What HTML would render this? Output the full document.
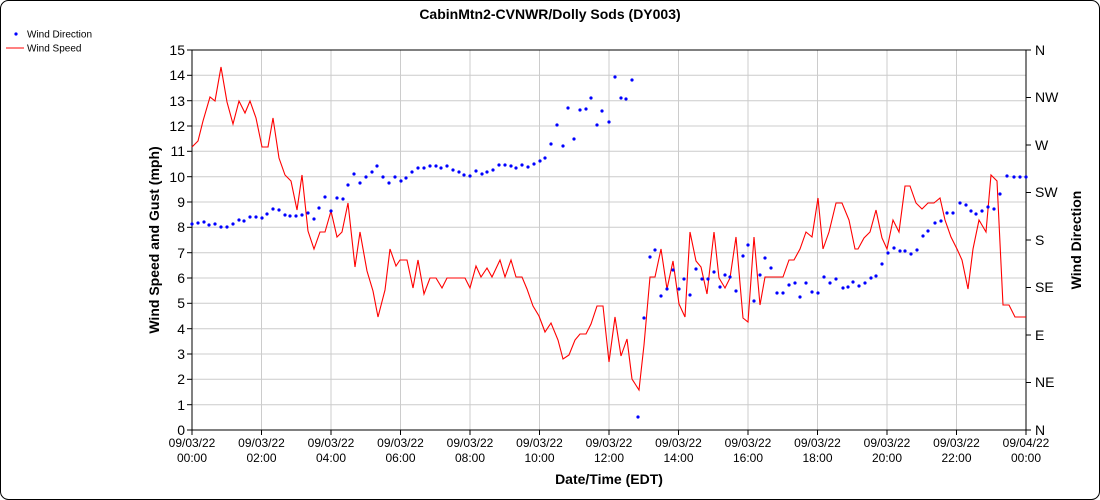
<!DOCTYPE html>
<html><head><meta charset="utf-8"><style>
body{margin:0;background:#fff;}
svg{display:block;font-family:"Liberation Sans",Arial,sans-serif;}
</style></head><body>
<svg width="1100" height="500" viewBox="0 0 1100 500">
<rect x="0.5" y="0.5" width="1099" height="499" rx="8" fill="#fff" stroke="#000"/>
<text x="550" y="19" text-anchor="middle" font-size="14" font-weight="bold">CabinMtn2-CVNWR/Dolly Sods (DY003)</text>
<circle cx="16" cy="34" r="1.6" fill="#00f"/>
<text x="27" y="37.5" font-size="10">Wind Direction</text>
<line x1="6" y1="48" x2="24" y2="48" stroke="#f00"/>
<text x="27" y="51.5" font-size="10">Wind Speed</text>
<g stroke="#ccc" stroke-width="1">
<line x1="192" y1="75.3" x2="1026" y2="75.3"/><line x1="192" y1="100.7" x2="1026" y2="100.7"/><line x1="192" y1="126" x2="1026" y2="126"/><line x1="192" y1="151.3" x2="1026" y2="151.3"/><line x1="192" y1="176.7" x2="1026" y2="176.7"/><line x1="192" y1="202" x2="1026" y2="202"/><line x1="192" y1="227.3" x2="1026" y2="227.3"/><line x1="192" y1="252.7" x2="1026" y2="252.7"/><line x1="192" y1="278" x2="1026" y2="278"/><line x1="192" y1="303.3" x2="1026" y2="303.3"/><line x1="192" y1="328.7" x2="1026" y2="328.7"/><line x1="192" y1="354" x2="1026" y2="354"/><line x1="192" y1="379.3" x2="1026" y2="379.3"/><line x1="192" y1="404.7" x2="1026" y2="404.7"/>
<line x1="261.5" y1="50" x2="261.5" y2="430"/><line x1="331" y1="50" x2="331" y2="430"/><line x1="400.5" y1="50" x2="400.5" y2="430"/><line x1="470" y1="50" x2="470" y2="430"/><line x1="539.5" y1="50" x2="539.5" y2="430"/><line x1="609" y1="50" x2="609" y2="430"/><line x1="678.5" y1="50" x2="678.5" y2="430"/><line x1="748" y1="50" x2="748" y2="430"/><line x1="817.5" y1="50" x2="817.5" y2="430"/><line x1="887" y1="50" x2="887" y2="430"/><line x1="956.5" y1="50" x2="956.5" y2="430"/>
</g>
<rect x="192" y="50" width="834" height="380" fill="none" stroke="#000"/>
<g stroke="#000">
<line x1="187" y1="50" x2="192" y2="50"/><line x1="187" y1="75.3" x2="192" y2="75.3"/><line x1="187" y1="100.7" x2="192" y2="100.7"/><line x1="187" y1="126" x2="192" y2="126"/><line x1="187" y1="151.3" x2="192" y2="151.3"/><line x1="187" y1="176.7" x2="192" y2="176.7"/><line x1="187" y1="202" x2="192" y2="202"/><line x1="187" y1="227.3" x2="192" y2="227.3"/><line x1="187" y1="252.7" x2="192" y2="252.7"/><line x1="187" y1="278" x2="192" y2="278"/><line x1="187" y1="303.3" x2="192" y2="303.3"/><line x1="187" y1="328.7" x2="192" y2="328.7"/><line x1="187" y1="354" x2="192" y2="354"/><line x1="187" y1="379.3" x2="192" y2="379.3"/><line x1="187" y1="404.7" x2="192" y2="404.7"/><line x1="187" y1="430" x2="192" y2="430"/>
<line x1="1026" y1="50" x2="1031" y2="50"/><line x1="1026" y1="97.5" x2="1031" y2="97.5"/><line x1="1026" y1="145" x2="1031" y2="145"/><line x1="1026" y1="192.5" x2="1031" y2="192.5"/><line x1="1026" y1="240" x2="1031" y2="240"/><line x1="1026" y1="287.5" x2="1031" y2="287.5"/><line x1="1026" y1="335" x2="1031" y2="335"/><line x1="1026" y1="382.5" x2="1031" y2="382.5"/><line x1="1026" y1="430" x2="1031" y2="430"/>
<line x1="192" y1="430" x2="192" y2="435"/><line x1="261.5" y1="430" x2="261.5" y2="435"/><line x1="331" y1="430" x2="331" y2="435"/><line x1="400.5" y1="430" x2="400.5" y2="435"/><line x1="470" y1="430" x2="470" y2="435"/><line x1="539.5" y1="430" x2="539.5" y2="435"/><line x1="609" y1="430" x2="609" y2="435"/><line x1="678.5" y1="430" x2="678.5" y2="435"/><line x1="748" y1="430" x2="748" y2="435"/><line x1="817.5" y1="430" x2="817.5" y2="435"/><line x1="887" y1="430" x2="887" y2="435"/><line x1="956.5" y1="430" x2="956.5" y2="435"/><line x1="1026" y1="430" x2="1026" y2="435"/>
</g>
<g font-size="14" text-anchor="end">
<text x="185" y="55">15</text><text x="185" y="80">14</text><text x="185" y="106">13</text><text x="185" y="131">12</text><text x="185" y="156">11</text><text x="185" y="182">10</text><text x="185" y="207">9</text><text x="185" y="232">8</text><text x="185" y="258">7</text><text x="185" y="283">6</text><text x="185" y="308">5</text><text x="185" y="334">4</text><text x="185" y="359">3</text><text x="185" y="384">2</text><text x="185" y="410">1</text><text x="185" y="435">0</text>
</g>
<g font-size="14">
<text x="1035" y="55">N</text><text x="1035" y="102">NW</text><text x="1035" y="150">W</text><text x="1035" y="197">SW</text><text x="1035" y="245">S</text><text x="1035" y="292">SE</text><text x="1035" y="340">E</text><text x="1035" y="387">NE</text><text x="1035" y="435">N</text>
</g>
<g font-size="12" text-anchor="middle">
<text x="192" y="447">09/03/22</text><text x="192" y="462">00:00</text>
<text x="261.5" y="447">09/03/22</text><text x="261.5" y="462">02:00</text>
<text x="331" y="447">09/03/22</text><text x="331" y="462">04:00</text>
<text x="400.5" y="447">09/03/22</text><text x="400.5" y="462">06:00</text>
<text x="470" y="447">09/03/22</text><text x="470" y="462">08:00</text>
<text x="539.5" y="447">09/03/22</text><text x="539.5" y="462">10:00</text>
<text x="609" y="447">09/03/22</text><text x="609" y="462">12:00</text>
<text x="678.5" y="447">09/03/22</text><text x="678.5" y="462">14:00</text>
<text x="748" y="447">09/03/22</text><text x="748" y="462">16:00</text>
<text x="817.5" y="447">09/03/22</text><text x="817.5" y="462">18:00</text>
<text x="887" y="447">09/03/22</text><text x="887" y="462">20:00</text>
<text x="956.5" y="447">09/03/22</text><text x="956.5" y="462">22:00</text>
<text x="1026" y="447">09/04/22</text><text x="1026" y="462">00:00</text>
</g>
<text x="609" y="484" text-anchor="middle" font-size="14" font-weight="bold">Date/Time (EDT)</text>
<text transform="translate(159,240) rotate(-90)" text-anchor="middle" font-size="14" font-weight="bold">Wind Speed and Gust (mph)</text>
<text transform="translate(1081,240) rotate(-90)" text-anchor="middle" font-size="14" font-weight="bold">Wind Direction</text>
<polyline fill="none" stroke="#f00" stroke-width="1.1" points="192,147 198,141 203,121 210,97 215,101 221,67 227,102 233,124 239,101 245,113 250,101 256,118 262,147 268,147 273,118 279,158 285,175 291,181 297,210 302,175 308,231 314,249 320,232 325,232 331,211 337,237 342,232 348,203 355,267 360,232 367,271 373,291 378,317 385,290 390,249 396,266 400,260 407,260 413,288 418,260 424,294 430,278 436,278 442,288 447,278 453,278 460,278 465,278 470,288 476,266 481,277 487,268 492,277 500,260 505,277 511,260 516,277 522,277 527,289 533,306 539,316 545,332 551,323 558,340 563,359 569,355 575,340 580,334 586,334 591,324 597,306 603,306 609,362 615,317 621,356 627,339 632,379 639,390 644,345 650,277 655,277 661,249 667,289 673,261 679,304 685,317 690,232 696,261 701,267 707,294 714,232 719,278 725,288 730,278 736,237 743,318 748,322 754,237 760,305 765,277 771,277 783,277 789,260 794,260 800,249 806,232 812,237 818,198 823,249 829,232 836,203 842,203 849,220 855,249 858,249 864,238 870,232 876,210 882,238 887,249 893,220 899,232 905,186 910,186 916,203 922,209 928,203 934,203 940,198 945,220 951,237 957,249 962,260 968,289 973,249 979,220 986,232 991,175 997,181 1003,305 1009,305 1015,317 1026,317"/>
<g fill="#00f">
<circle cx="192" cy="224" r="1.6"/><circle cx="198" cy="223" r="1.6"/><circle cx="204" cy="222" r="1.6"/><circle cx="209" cy="225" r="1.6"/><circle cx="215" cy="224" r="1.6"/><circle cx="221" cy="227" r="1.6"/><circle cx="227" cy="227" r="1.6"/><circle cx="233" cy="224" r="1.6"/><circle cx="239" cy="220" r="1.6"/><circle cx="244" cy="221" r="1.6"/><circle cx="250" cy="217" r="1.6"/><circle cx="256" cy="217" r="1.6"/><circle cx="262" cy="218" r="1.6"/><circle cx="267" cy="214" r="1.6"/><circle cx="273" cy="209" r="1.6"/><circle cx="279" cy="210" r="1.6"/><circle cx="285" cy="215" r="1.6"/><circle cx="290" cy="216" r="1.6"/><circle cx="296" cy="216" r="1.6"/><circle cx="302" cy="215" r="1.6"/><circle cx="308" cy="213" r="1.6"/><circle cx="314" cy="219" r="1.6"/><circle cx="319" cy="208" r="1.6"/><circle cx="325" cy="197" r="1.6"/><circle cx="331" cy="211" r="1.6"/><circle cx="337" cy="198" r="1.6"/><circle cx="343" cy="199" r="1.6"/><circle cx="348" cy="185" r="1.6"/><circle cx="354" cy="174" r="1.6"/><circle cx="360" cy="183" r="1.6"/><circle cx="366" cy="177" r="1.6"/><circle cx="372" cy="172" r="1.6"/><circle cx="377" cy="166" r="1.6"/><circle cx="383" cy="177" r="1.6"/><circle cx="389" cy="183" r="1.6"/><circle cx="395" cy="177" r="1.6"/><circle cx="401" cy="181" r="1.6"/><circle cx="406" cy="178" r="1.6"/><circle cx="412" cy="172" r="1.6"/><circle cx="418" cy="168" r="1.6"/><circle cx="424" cy="168" r="1.6"/><circle cx="430" cy="166" r="1.6"/><circle cx="436" cy="166" r="1.6"/><circle cx="441" cy="168" r="1.6"/><circle cx="447" cy="166" r="1.6"/><circle cx="453" cy="170" r="1.6"/><circle cx="459" cy="172" r="1.6"/><circle cx="464" cy="175" r="1.6"/><circle cx="470" cy="176" r="1.6"/><circle cx="476" cy="171" r="1.6"/><circle cx="482" cy="174" r="1.6"/><circle cx="487" cy="172" r="1.6"/><circle cx="493" cy="170" r="1.6"/><circle cx="499" cy="165" r="1.6"/><circle cx="505" cy="165" r="1.6"/><circle cx="511" cy="166" r="1.6"/><circle cx="516" cy="168" r="1.6"/><circle cx="522" cy="165" r="1.6"/><circle cx="528" cy="167" r="1.6"/><circle cx="534" cy="164" r="1.6"/><circle cx="540" cy="161" r="1.6"/><circle cx="545" cy="158" r="1.6"/><circle cx="551" cy="144" r="1.6"/><circle cx="557" cy="125" r="1.6"/><circle cx="563" cy="146" r="1.6"/><circle cx="568" cy="108" r="1.6"/><circle cx="574" cy="139" r="1.6"/><circle cx="580" cy="110" r="1.6"/><circle cx="586" cy="109" r="1.6"/><circle cx="591" cy="98" r="1.6"/><circle cx="597" cy="125" r="1.6"/><circle cx="602" cy="111" r="1.6"/><circle cx="609" cy="122" r="1.6"/><circle cx="615" cy="77" r="1.6"/><circle cx="621" cy="98" r="1.6"/><circle cx="626" cy="99" r="1.6"/><circle cx="632" cy="80" r="1.6"/><circle cx="638" cy="417" r="1.6"/><circle cx="644" cy="318" r="1.6"/><circle cx="650" cy="257" r="1.6"/><circle cx="655" cy="250" r="1.6"/><circle cx="661" cy="296" r="1.6"/><circle cx="667" cy="289" r="1.6"/><circle cx="673" cy="270" r="1.6"/><circle cx="679" cy="289" r="1.6"/><circle cx="684" cy="279" r="1.6"/><circle cx="690" cy="295" r="1.6"/><circle cx="696" cy="269" r="1.6"/><circle cx="702" cy="279" r="1.6"/><circle cx="708" cy="279" r="1.6"/><circle cx="714" cy="272" r="1.6"/><circle cx="720" cy="287" r="1.6"/><circle cx="725" cy="275" r="1.6"/><circle cx="730" cy="277" r="1.6"/><circle cx="736" cy="291" r="1.6"/><circle cx="743" cy="256" r="1.6"/><circle cx="748" cy="245" r="1.6"/><circle cx="754" cy="301" r="1.6"/><circle cx="760" cy="275" r="1.6"/><circle cx="765" cy="258" r="1.6"/><circle cx="771" cy="268" r="1.6"/><circle cx="777" cy="293" r="1.6"/><circle cx="783" cy="293" r="1.6"/><circle cx="789" cy="285" r="1.6"/><circle cx="795" cy="283" r="1.6"/><circle cx="800" cy="297" r="1.6"/><circle cx="806" cy="283" r="1.6"/><circle cx="812" cy="292" r="1.6"/><circle cx="818" cy="293" r="1.6"/><circle cx="824" cy="277" r="1.6"/><circle cx="830" cy="283" r="1.6"/><circle cx="836" cy="279" r="1.6"/><circle cx="843" cy="288" r="1.6"/><circle cx="848" cy="287" r="1.6"/><circle cx="853" cy="282" r="1.6"/><circle cx="859" cy="286" r="1.6"/><circle cx="865" cy="283" r="1.6"/><circle cx="871" cy="278" r="1.6"/><circle cx="876" cy="276" r="1.6"/><circle cx="882" cy="264" r="1.6"/><circle cx="888" cy="253" r="1.6"/><circle cx="894" cy="248" r="1.6"/><circle cx="900" cy="251" r="1.6"/><circle cx="905" cy="251" r="1.6"/><circle cx="911" cy="254" r="1.6"/><circle cx="917" cy="250" r="1.6"/><circle cx="923" cy="236" r="1.6"/><circle cx="928" cy="231" r="1.6"/><circle cx="935" cy="223" r="1.6"/><circle cx="941" cy="221" r="1.6"/><circle cx="947" cy="213" r="1.6"/><circle cx="953" cy="213" r="1.6"/><circle cx="960" cy="203" r="1.6"/><circle cx="966" cy="205" r="1.6"/><circle cx="971" cy="211" r="1.6"/><circle cx="976" cy="214" r="1.6"/><circle cx="982" cy="211" r="1.6"/><circle cx="988" cy="207" r="1.6"/><circle cx="994" cy="209" r="1.6"/><circle cx="1000" cy="194" r="1.6"/><circle cx="1007" cy="176" r="1.6"/><circle cx="1014" cy="177" r="1.6"/><circle cx="1020" cy="177" r="1.6"/><circle cx="1026" cy="177" r="1.6"/>
</g>
</svg>
</body></html>
